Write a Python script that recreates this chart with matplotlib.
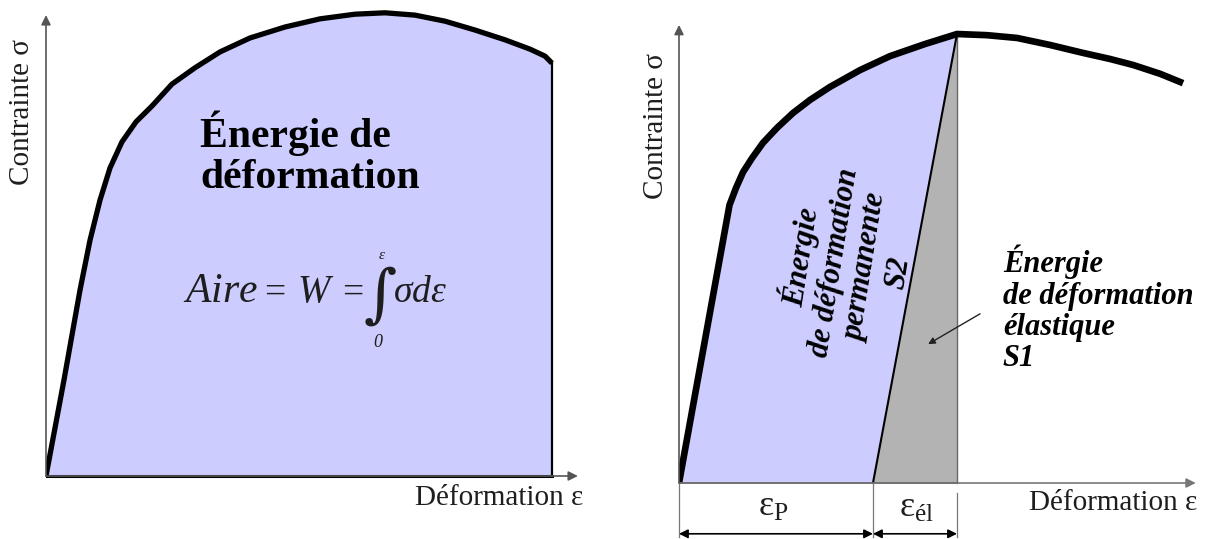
#   courbes contrainte - deformation : energie de deformation (gauche) et
#   decomposition en energie permanente / elastique (droite)
import matplotlib
matplotlib.use('Agg')
from matplotlib import pyplot as plt

plt.rcParams['font.family'] = ['Liberation Serif', 'DejaVu Serif']
plt.rcParams['mathtext.fontset'] = 'custom'
plt.rcParams['mathtext.rm'] = 'Liberation Serif'
plt.rcParams['mathtext.it'] = 'Liberation Serif:italic'
plt.rcParams['mathtext.bf'] = 'Liberation Serif:bold'

eps_gauche = [0, 3.33, 6.30, 8.15, 10.0, 11.85, 14.07, 16.67, 19.63, 23.33, 27.59, 32.22,
              37.78, 44.26, 50.74, 57.22, 62.78, 68.33, 73.89, 79.44, 85.0, 89.63, 92.41, 93.7]
sig_gauche = [0, 20.6, 39.9, 50.6, 59.2, 66.1, 71.7, 76.0, 79.4, 84.1, 87.6, 91.0,
              94.0, 96.35, 98.1, 99.1, 99.4, 98.9, 97.6, 95.7, 93.6, 91.6, 90.1, 88.6]

eps_droite = [0, 9.53, 10.75, 12.08, 13.77, 15.85, 18.49, 21.51, 24.72, 28.49, 34.15, 39.81,
              46.42, 52.45, 58.1, 63.8, 70.0, 76.2, 81.3, 85.7, 90.8, 95.1]
sig_droite = [0, 59.66, 63.3, 66.7, 69.7, 73.0, 76.2, 79.4, 82.2, 85.0, 88.6, 91.6,
              94.2, 96.35, 96.1, 95.5, 94.0, 92.3, 91.0, 89.7, 87.8, 85.8]
i_pic = 13           # point de decharge (pic)
eps_p = 36.6         # deformation permanente apres decharge

lavande = '#ccccff'
gris = '#b3b3b3'
axe_col = '#555555'
txt_col = '#1e1e1e'

fig = plt.figure(figsize=(12.13, 5.39), dpi=100)
W, H = 1213, 539


def boite(x0, y_haut, x1, y_bas):
    return [x0 / W, 1 - y_bas / H, (x1 - x0) / W, (y_bas - y_haut) / H]


def fleche(ax, xy, xytext, col=axe_col, lw=1.2, style='-|>', ms=14):
    ax.annotate('', xy=xy, xytext=xytext, annotation_clip=False,
                arrowprops=dict(arrowstyle=style, color=col, lw=lw, mutation_scale=ms,
                                shrinkA=0, shrinkB=0))


#   ---- panneau gauche ----
ax1 = fig.add_axes(boite(46, 10, 586, 531.92))
ax1.set_xlim(0, 100)
ax1.set_ylim(-12, 100)
ax1.axis('off')

fleche(ax1, (98.5, 0), (0, 0))
fleche(ax1, (0, 98.9), (0, 0))

x_fill = eps_gauche + [eps_gauche[-1]]
y_fill = sig_gauche + [0]
ax1.fill(x_fill, y_fill, color=lavande, lw=0)
ax1.plot([eps_gauche[-1], eps_gauche[-1]], [sig_gauche[-1], 0], color='black', lw=1.6)
ax1.plot([0, eps_gauche[-1]], [0, 0], color='black', lw=2.2)
ax1.plot(eps_gauche, sig_gauche, color='black', lw=3.8, solid_capstyle='butt',
         solid_joinstyle='round')

ax1.text(-4.4, 78.1, 'Contrainte σ', rotation=90, ha='center', va='center', fontsize=21,
         color=txt_col)
ax1.text(99.4, -4.7, 'Déformation ε', ha='right', va='center', fontsize=21, color=txt_col)
ax1.text(28.5, 78.5, 'Énergie de\ndéformation', ha='left', va='top', fontsize=30,
         fontweight='bold', linespacing=1.12)

#   formule  Aire = W = integrale de 0 a eps de sigma d eps
yb = 37.3
ax1.text(32.4, yb, r'$Aire$', ha='center', va='baseline', fontsize=30, color=txt_col)
ax1.text(42.4, yb, '=', ha='center', va='baseline', fontsize=27, color=txt_col)
ax1.text(50.0, yb, r'$W$', ha='center', va='baseline', fontsize=28, color=txt_col)
ax1.text(56.8, yb, '=', ha='center', va='baseline', fontsize=27, color=txt_col)
ax1.text(61.9, 38.4, '∫', ha='center', va='center', fontsize=46, color=txt_col,
         family='DejaVu Serif')
ax1.text(64.3, yb, r'$σdε$', ha='left', va='baseline', fontsize=27, color=txt_col)
ax1.text(62.2, 47.3, r'$ε$', ha='center', va='center', fontsize=11, color=txt_col)
ax1.text(61.5, 28.6, '0', ha='center', va='center', fontsize=13, fontstyle='italic',
         color=txt_col)

#   ---- panneau droit ----
ax2 = fig.add_axes(boite(679, 17, 1209, 538.92))
ax2.set_xlim(0, 100)
ax2.set_ylim(-12, 100)
ax2.axis('off')

fleche(ax2, (97.5, 0), (0, 0), col='#777777')
fleche(ax2, (0, 98.3), (0, 0))

e_pic, s_pic = eps_droite[i_pic], sig_droite[i_pic]

#   energie permanente S2 (lavande) et elastique S1 (gris)
ax2.fill(eps_droite[:i_pic + 1] + [eps_p], sig_droite[:i_pic + 1] + [0], color=lavande, lw=0)
ax2.fill([eps_p, e_pic, e_pic], [0, s_pic, 0], color=gris, lw=0)
ax2.plot([e_pic, e_pic], [s_pic, 0], color='#666666', lw=1.0)
ax2.plot([0, e_pic], [0, 0], color='#444444', lw=1.2)
ax2.plot([eps_p, e_pic], [0, s_pic], color='black', lw=1.5)
ax2.plot(eps_droite, sig_droite, color='black', lw=4.8, solid_capstyle='butt',
         solid_joinstyle='round')

#   cotes eps_p et eps_el
for xc, y0 in [(0, 0), (eps_p, 0), (e_pic, -2.1)]:
    ax2.plot([xc, xc], [y0, -11.5], color='#777777', lw=0.9, clip_on=False)
fleche(ax2, (0, -10.9), (eps_p, -10.9), col='black', lw=1.2, style='<|-|>', ms=13)
fleche(ax2, (eps_p, -10.9), (e_pic, -10.9), col='black', lw=1.2, style='<|-|>', ms=13)
ax2.text(17.7, -5.2, r'$\mathrm{ε_{P}}$', ha='center', va='center', fontsize=26,
         color=txt_col)
ax2.text(44.9, -5.4, r'$\mathrm{ε_{él}}$', ha='center', va='center', fontsize=26,
         color=txt_col)

ax2.text(-4.3, 76.6, 'Contrainte σ', rotation=90, ha='center', va='center', fontsize=21,
         color=txt_col)
ax2.text(97.7, -4.3, 'Déformation ε', ha='right', va='center', fontsize=21, color=txt_col)

ax2.text(31.9, 46.8, 'Énergie\nde déformation\npermanente\nS2', rotation=81,
         rotation_mode='anchor', ha='center', va='center', multialignment='center',
         fontsize=22, fontweight='bold', fontstyle='italic', linespacing=1.15)
ax2.text(61.1, 51.1, 'Énergie\nde déformation\nélastique\nS1', ha='left', va='top',
         fontsize=22, fontweight='bold', fontstyle='italic', linespacing=1.1)
fleche(ax2, (47.0, 29.8), (56.8, 36.3), col='#222222', lw=1.0, ms=10)

plt.savefig('out.png', dpi=100)
